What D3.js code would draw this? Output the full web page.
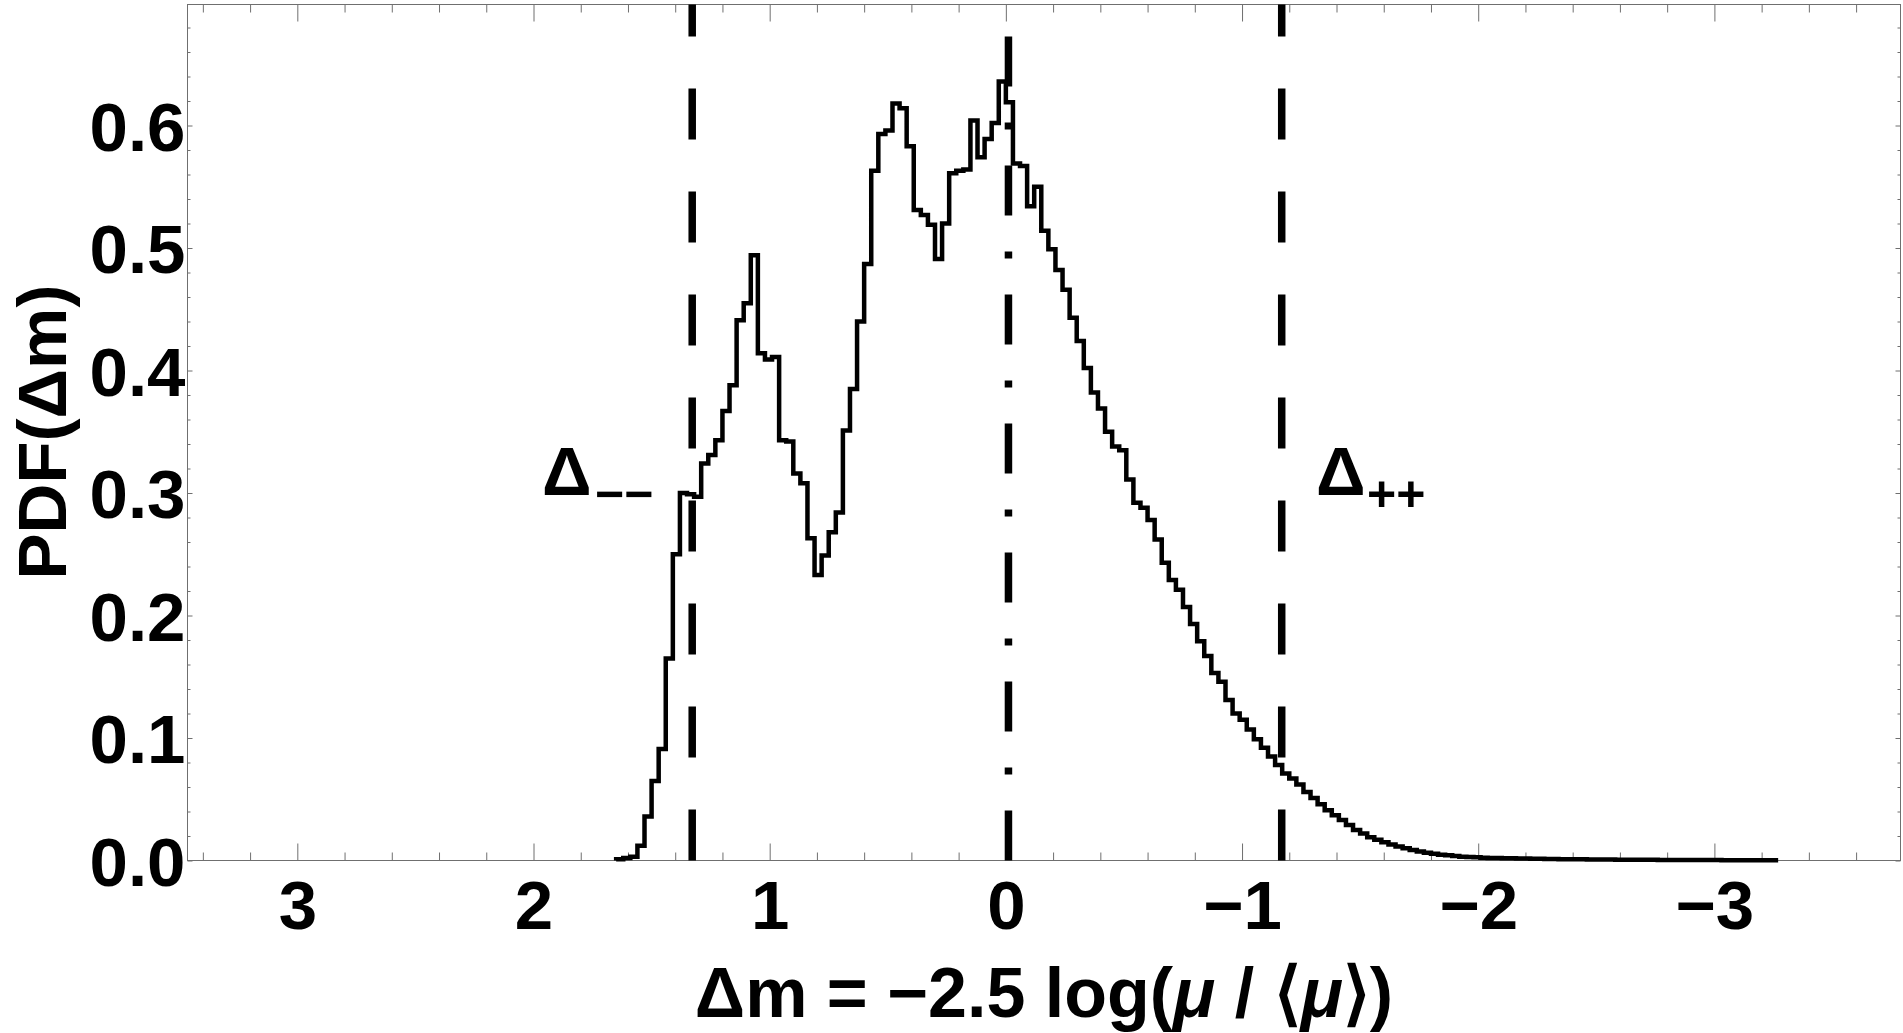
<!DOCTYPE html>
<html><head><meta charset="utf-8">
<script src="https://cdn.jsdelivr.net/npm/d3@7"></script>
<style>
body{margin:0;background:#fff;}
svg{display:block;}
text{font-family:"Liberation Sans",Arial,sans-serif;font-weight:bold;fill:#000;}
</style>
</head><body>
<svg id="chart" width="1903" height="1033"></svg>
<script>
// ---------- data ----------
const binStart = 1.65;      // left-most bin edge (axis is reversed)
const binWidth = 0.03;
const pdfValues = [
  0.001, 0.002, 0.003, 0.012, 0.036, 0.065, 0.091, 0.165, 0.250, 0.300,
  0.299, 0.297, 0.324, 0.331, 0.343, 0.367, 0.388, 0.441, 0.455, 0.494,
  0.414, 0.409, 0.411, 0.343, 0.342, 0.316, 0.308, 0.263, 0.233, 0.249,
  0.268, 0.284, 0.351, 0.385, 0.440, 0.487, 0.563, 0.593, 0.596, 0.618,
  0.614, 0.583, 0.531, 0.527, 0.519, 0.491, 0.520, 0.561, 0.563, 0.564,
  0.604, 0.574, 0.589, 0.602, 0.636, 0.619, 0.569, 0.567, 0.534, 0.550,
  0.514, 0.499, 0.482, 0.466, 0.443, 0.424, 0.402, 0.382, 0.369, 0.350,
  0.338, 0.335, 0.311, 0.292, 0.288, 0.278, 0.262, 0.243, 0.229, 0.221,
  0.207, 0.193, 0.179, 0.167, 0.153, 0.146, 0.131, 0.120, 0.115, 0.107,
  0.099, 0.092, 0.085, 0.078, 0.071, 0.067, 0.062, 0.056, 0.051, 0.046,
  0.041, 0.037, 0.033, 0.029, 0.025, 0.022, 0.019, 0.017, 0.015, 0.013,
  0.0115, 0.0099, 0.0086, 0.0074, 0.0064, 0.0056, 0.0047, 0.0042, 0.0036, 0.0031,
  0.0028, 0.0026, 0.0023, 0.0021, 0.0020, 0.0019, 0.0018, 0.0017, 0.0016, 0.0015,
  0.0014, 0.0013, 0.0012, 0.0011, 0.0011, 0.0010, 0.0010, 0.0009, 0.0009, 0.0008,
  0.0008, 0.0007, 0.0007, 0.0007, 0.0006, 0.0006, 0.0006, 0.0005, 0.0005, 0.0005,
  0.0005, 0.0004, 0.0004, 0.0004, 0.0004, 0.0004, 0.0003, 0.0003, 0.0003, 0.0003,
  0.0003, 0.0003, 0.0002, 0.0002
];
const xTickValues = [3, 2, 1, 0, -1, -2, -3];
const xTickLabels = ["3", "2", "1", "0", "\u22121", "\u22122", "\u22123"];
const yTickValues = [0, 0.1, 0.2, 0.3, 0.4, 0.5, 0.6];
const yTickLabels = ["0.0", "0.1", "0.2", "0.3", "0.4", "0.5", "0.6"];
const deltaMinusMinus = 1.328;
const deltaPlusPlus = -1.168;
const meanShift = -0.011;
const xLabel = "\u0394m = \u22122.5 log(";
const yLabel = "PDF(\u0394m)";

// ---------- layout ----------
const plotLeft = 187.5, plotRight = 1900.5, plotTop = 4.5, plotBottom = 860.5;
const frameColor = "#6f6f6f";

const svg = d3.select("#chart");
const x = d3.scaleLinear().domain([3.465, -3.788]).range([plotLeft, plotRight]);
const y = d3.scaleLinear().domain([0, 0.69878]).range([plotBottom, plotTop]);

// minor tick positions
const xMinor = d3.range(-19, 19).map(i => +(i * 0.2).toFixed(1))
  .filter(v => v <= 3.465 && v >= -3.788 && Math.abs(v - Math.round(v)) > 1e-6);
const yMinor = d3.range(0, 35).map(i => +(i * 0.02).toFixed(2))
  .filter(v => Math.abs(v * 10 - Math.round(v * 10)) > 1e-6);

function styleAxis(g) {
  g.select(".domain").remove();
  g.selectAll(".tick line").attr("stroke", frameColor).attr("stroke-width", 1);
}

// bottom major with labels
const gB = svg.append("g").attr("transform", `translate(0,${plotBottom})`)
  .call(d3.axisBottom(x).tickValues(xTickValues).tickFormat((d, i) => xTickLabels[i]).tickSize(-17));
styleAxis(gB);
gB.selectAll("text").attr("y", 929 - plotBottom).attr("dy", null)
  .style("font-size", "69px").attr("fill", "#000");
// bottom minor
styleAxis(svg.append("g").attr("transform", `translate(0,${plotBottom})`)
  .call(d3.axisBottom(x).tickValues(xMinor).tickFormat("").tickSize(-8)));
// top major/minor
styleAxis(svg.append("g").attr("transform", `translate(0,${plotTop})`)
  .call(d3.axisTop(x).tickValues(xTickValues).tickFormat("").tickSize(-17)));
styleAxis(svg.append("g").attr("transform", `translate(0,${plotTop})`)
  .call(d3.axisTop(x).tickValues(xMinor).tickFormat("").tickSize(-8)));

// left major with labels
const gL = svg.append("g").attr("transform", `translate(${plotLeft},0)`)
  .call(d3.axisLeft(y).tickValues(yTickValues).tickFormat((d, i) => yTickLabels[i]).tickSize(-5));
styleAxis(gL);
gL.selectAll("text").attr("x", -2).attr("y", 24.5).attr("dy", null)
  .style("font-size", "69px").attr("fill", "#000");
styleAxis(svg.append("g").attr("transform", `translate(${plotLeft},0)`)
  .call(d3.axisLeft(y).tickValues(yMinor).tickFormat("").tickSize(-3)));
// right
styleAxis(svg.append("g").attr("transform", `translate(${plotRight},0)`)
  .call(d3.axisRight(y).tickValues(yTickValues).tickFormat("").tickSize(-5)));
styleAxis(svg.append("g").attr("transform", `translate(${plotRight},0)`)
  .call(d3.axisRight(y).tickValues(yMinor).tickFormat("").tickSize(-3)));

// frame
svg.append("rect").attr("x", plotLeft).attr("y", plotTop)
  .attr("width", plotRight - plotLeft).attr("height", plotBottom - plotTop)
  .attr("fill", "none").attr("stroke", frameColor).attr("stroke-width", 1);

// histogram outline
const pts = [[binStart, 0]];
pdfValues.forEach((v, i) => pts.push([binStart - i * binWidth, v]));
pts.push([binStart - pdfValues.length * binWidth, pdfValues[pdfValues.length - 1]]);
const stepLine = d3.line().x(d => x(d[0])).y(d => y(d[1])).curve(d3.curveStepAfter);
svg.append("path").attr("d", stepLine(pts)).attr("fill", "none")
  .attr("stroke", "#000").attr("stroke-width", 4.5).attr("stroke-linejoin", "miter");

// vertical reference lines
function vline(v, dash) {
  svg.append("line").attr("x1", x(v)).attr("x2", x(v))
    .attr("y1", y(0)).attr("y2", plotTop)
    .attr("stroke", "#000").attr("stroke-width", 7.5)
    .attr("stroke-dasharray", dash);
}
vline(deltaMinusMinus, "51,52");
vline(deltaPlusPlus, "51,52");
vline(meanShift, "50,36,7,36");

// annotations
const a1 = svg.append("text").attr("x", 542).attr("y", 495).style("font-size", "69px");
a1.append("tspan").text("\u0394");
a1.append("tspan").attr("x", 595).attr("y", 511).style("font-size", "50px").text("\u2212\u2212");
const a2 = svg.append("text").attr("x", 1316).attr("y", 495).style("font-size", "69px");
a2.append("tspan").text("\u0394");
a2.append("tspan").attr("x", 1367).attr("y", 511).style("font-size", "50px").text("++");

// axis labels
const xl = svg.append("text").attr("x", (plotLeft + plotRight) / 2).attr("y", 1017)
  .attr("text-anchor", "middle").style("font-size", "70px");
xl.append("tspan").text(xLabel);
xl.append("tspan").style("font-style", "italic").text("\u03bc");
xl.append("tspan").text(" / \u27e8");
xl.append("tspan").style("font-style", "italic").text("\u03bc");
xl.append("tspan").text("\u27e9)");

svg.append("text").attr("transform", `translate(66,432) rotate(-90)`)
  .attr("text-anchor", "middle").style("font-size", "69px").text(yLabel);
</script>
</body></html>
